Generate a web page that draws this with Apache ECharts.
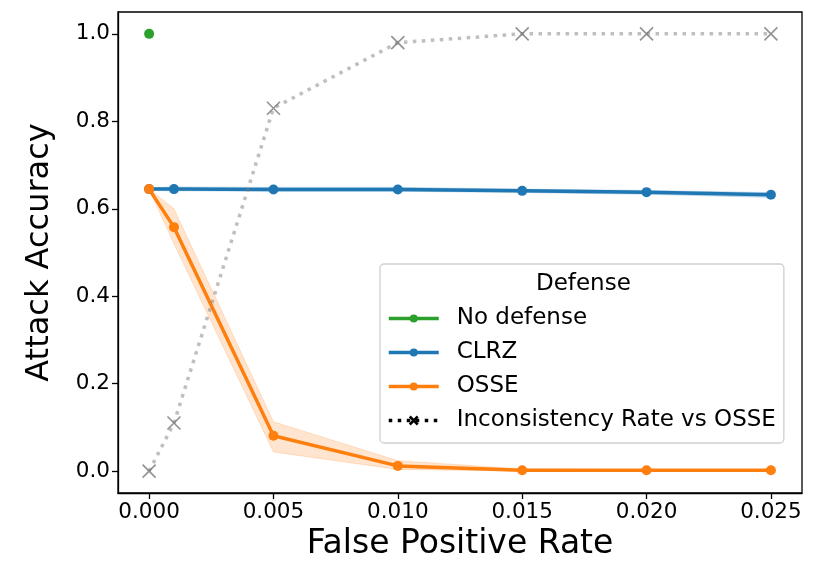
<!DOCTYPE html>
<html>
<head>
<meta charset="utf-8">
<script src="https://cdn.jsdelivr.net/npm/echarts@6/dist/echarts.min.js"></script>
<style>
  html, body { margin: 0; padding: 0; background: #fff; }
  #chart { width: 830px; height: 581px; }
</style>
</head>
<body>
<div id="chart"></div>
<script>
// values
const fpr = [0, 0.001, 0.005, 0.010, 0.015, 0.020, 0.025]
const noDefense = [1.0]
const clrz = [0.645, 0.645, 0.644, 0.644, 0.641, 0.638, 0.632]
const clrzLow = [0.642, 0.641, 0.640, 0.640, 0.637, 0.633, 0.626]
const clrzHigh = [0.648, 0.650, 0.649, 0.649, 0.645, 0.642, 0.637]
const osse = [0.645, 0.558, 0.081, 0.012, 0.002, 0.002, 0.002]
const osseLow = [0.645, 0.520, 0.044, 0.004, 0.000, 0.000, 0.000]
const osseHigh = [0.645, 0.600, 0.113, 0.024, 0.005, 0.003, 0.003]
const inconsistency = [0.0, 0.11, 0.83, 0.98, 1.0, 1.0, 1.0]
const xTicks = [0, 0.005, 0.010, 0.015, 0.020, 0.025]
const yTicks = [0, 0.2, 0.4, 0.6, 0.8, 1.0]

const FONT = 'DejaVu Sans'
const BLUE = '#1f77b4', ORANGE = '#ff7f0e', GREEN = '#2ca02c'

function pairs(ys) {
    return ys.map(function (y, i) { return [fpr[i], y] })
}

// shaded min/max band, drawn as one polygon through the axis scales
function band(name, lo, hi, color) {
    return {
        name: name,
        type: 'custom',
        silent: true,
        clip: true,
        z: 1,
        data: [[fpr[0], lo[0]]],
        renderItem: function (params, api) {
            let pts = []
            for (let i = 0; i < fpr.length; i++) pts.push(api.coord([fpr[i], hi[i]]))
            for (let i = fpr.length - 1; i >= 0; i--) pts.push(api.coord([fpr[i], lo[i]]))
            return {
                type: 'polygon',
                shape: { points: pts },
                style: { fill: color, opacity: 0.2, stroke: color, lineWidth: 1 }
            }
        }
    }
}

const xPath = 'path://M0,0L10,10M10,0L0,10'

let series = []
series.push(band('clrz band', clrzLow, clrzHigh, BLUE))
series.push(band('osse band', osseLow, osseHigh, ORANGE))
series.push({
    name: 'No defense',
    type: 'line',
    data: noDefense.map(function (v) { return [0, v] }),
    symbol: 'circle',
    symbolSize: 10,
    color: GREEN,
    lineStyle: { width: 3.5, color: GREEN },
    z: 3
})
series.push({
    name: 'CLRZ',
    type: 'line',
    data: pairs(clrz),
    symbol: 'circle',
    symbolSize: 10,
    color: BLUE,
    lineStyle: { width: 3.5, color: BLUE },
    z: 3
})
series.push({
    name: 'OSSE',
    type: 'line',
    data: pairs(osse),
    symbol: 'circle',
    symbolSize: 10,
    color: ORANGE,
    lineStyle: { width: 3.5, color: ORANGE },
    z: 3
})
series.push({
    name: 'Inconsistency Rate vs OSSE',
    type: 'line',
    data: pairs(inconsistency),
    symbol: xPath,
    symbolSize: 13,
    itemStyle: { color: 'transparent', borderColor: 'rgba(110,110,110,0.75)', borderWidth: 1.6 },
    lineStyle: { width: 3.5, color: 'rgba(128,128,128,0.5)', type: [3.5, 5.5], cap: 'butt' },
    z: 4
})

const chart = echarts.init(document.getElementById('chart'), null, { renderer: 'canvas' })
chart.setOption({
    animation: false,
    backgroundColor: '#fff',
    textStyle: { fontFamily: FONT },
    grid: {
        left: 118, right: 28, top: 12, bottom: 88,
        show: true, borderColor: '#000', borderWidth: 1.3, backgroundColor: 'transparent'
    },
    xAxis: {
        type: 'value',
        min: -0.00125,
        max: 0.02625,
        name: 'False Positive Rate',
        nameLocation: 'middle',
        nameGap: 29,
        nameTextStyle: { fontSize: 33, color: '#000', fontFamily: FONT, verticalAlign: 'top' },
        splitLine: { show: false },
        axisLine: { show: true, onZero: false, lineStyle: { color: '#000', width: 1.3 } },
        axisTick: { show: true, length: 6, lineStyle: { color: '#000', width: 1.3 }, customValues: xTicks },
        axisLabel: {
            fontSize: 21.5, color: '#000', fontFamily: FONT, margin: 8,
            customValues: xTicks,
            formatter: function (v) { return v.toFixed(3) }
        }
    },
    yAxis: {
        type: 'value',
        min: -0.05,
        max: 1.05,
        name: 'Attack Accuracy',
        nameLocation: 'middle',
        nameGap: 62,
        nameTextStyle: { fontSize: 32, color: '#000', fontFamily: FONT },
        splitLine: { show: false },
        axisLine: { show: true, onZero: false, lineStyle: { color: '#000', width: 1.3 } },
        axisTick: { show: true, length: 6, lineStyle: { color: '#000', width: 1.3 }, customValues: yTicks },
        axisLabel: {
            fontSize: 21.5, color: '#000', fontFamily: FONT, margin: 8,
            customValues: yTicks,
            formatter: function (v) { return v.toFixed(1) }
        }
    },
    legend: {
        orient: 'vertical',
        left: 380,
        top: 264,
        padding: [43, 8, 11, 7],
        itemGap: 11,
        itemWidth: 50,
        itemHeight: 10,
        backgroundColor: 'rgba(255,255,255,0.8)',
        borderColor: '#d0d0d0',
        borderWidth: 1.3,
        borderRadius: 4,
        lineStyle: { width: 3.5 },
        textStyle: { fontSize: 23, color: '#000', fontFamily: FONT, padding: [0, 0, 0, 13], lineHeight: 10 },
        data: [
            { name: 'No defense' },
            { name: 'CLRZ' },
            { name: 'OSSE' },
            {
                name: 'Inconsistency Rate vs OSSE',
                itemStyle: { color: 'transparent', borderColor: '#000', borderWidth: 2.5 },
                lineStyle: { color: '#000', width: 3.5, type: [3.5, 5.5] }
            }
        ]
    },
    graphic: [{
        type: 'text',
        left: 536,
        top: 273,
        style: { text: 'Defense', font: '23px "DejaVu Sans"', fill: '#000' },
        z: 100
    }],
    series: series
})
</script>
</body>
</html>
